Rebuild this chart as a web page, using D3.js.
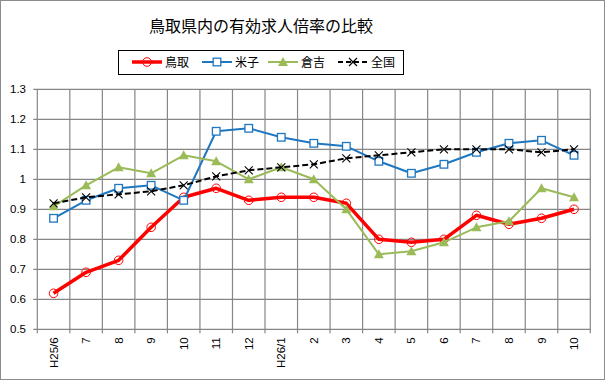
<!DOCTYPE html>
<html>
<head>
<meta charset="utf-8">
<script src="https://cdn.jsdelivr.net/npm/d3@7"></script>
<style>
  body { margin: 0; background: #fff; }
  svg { display: block; }
</style>
</head>
<body>
<svg id="chart" width="606" height="381"></svg>
<script>
// months (H25/6 .. H26/10)
const categories = ["H25/6", "7", "8", "9", "10", "11", "12", "H26/1", "2", "3", "4", "5", "6", "7", "8", "9", "10"];
const tottori = [0.62, 0.69, 0.73, 0.84, 0.94, 0.97, 0.93, 0.94, 0.94, 0.92, 0.80, 0.79, 0.80, 0.88, 0.85, 0.87, 0.90];
const yonago = [0.87, 0.93, 0.97, 0.98, 0.93, 1.16, 1.17, 1.14, 1.12, 1.11, 1.06, 1.02, 1.05, 1.09, 1.12, 1.13, 1.08];
const kurayoshi = [0.91, 0.98, 1.04, 1.02, 1.08, 1.06, 1.00, 1.04, 1.00, 0.90, 0.75, 0.76, 0.79, 0.84, 0.86, 0.97, 0.94];
const zenkoku = [0.92, 0.94, 0.95, 0.96, 0.98, 1.01, 1.03, 1.04, 1.05, 1.07, 1.08, 1.09, 1.10, 1.10, 1.10, 1.09, 1.10];
const yTicks = [0.5, 0.6, 0.7, 0.8, 0.9, 1.0, 1.1, 1.2, 1.3];

const series = [
  { name: "鳥取", values: tottori, color: "#ff0000", width: 3.5, marker: "circle" },
  { name: "米子", values: yonago, color: "#1f77c0", width: 2, marker: "square" },
  { name: "倉吉", values: kurayoshi, color: "#9bbb59", width: 2, marker: "triangle" },
  { name: "全国", values: zenkoku, color: "#000000", width: 2, marker: "cross", dash: "6,3" }
];

const svg = d3.select("#chart");
const W = 606, H = 381;
const plot = { left: 37.3, right: 590.3, top: 89.3, bottom: 329.3 };

// chart border
svg.append("rect")
  .attr("x", 0.5).attr("y", 0.5)
  .attr("width", W - 2).attr("height", H - 2)
  .attr("fill", "#fff").attr("stroke", "#8c8c8c");

const x = d3.scaleBand().domain(d3.range(categories.length)).range([plot.left, plot.right]);
const y = d3.scaleLinear().domain([0.5, 1.3]).range([plot.bottom, plot.top]);
const cx = i => x(i) + x.bandwidth() / 2;

/* ------- GRID -------*/
const grid = svg.append("g").attr("stroke", "#868686").attr("stroke-width", 1.2);
grid.selectAll("line.h").data(yTicks).enter().append("line")
  .attr("x1", plot.left - 4).attr("x2", plot.right)
  .attr("y1", d => y(d)).attr("y2", d => y(d));
grid.selectAll("line.v").data(d3.range(categories.length + 1)).enter().append("line")
  .attr("x1", d => plot.left + d * x.bandwidth()).attr("x2", d => plot.left + d * x.bandwidth())
  .attr("y1", plot.top).attr("y2", plot.bottom + 4);

/* ------- AXES LABELS -------*/
svg.append("g").selectAll("text").data(yTicks).enter().append("text")
  .attr("x", 26).attr("y", d => y(d) + 4)
  .attr("text-anchor", "end")
  .attr("font-family", "Liberation Sans, Arial, sans-serif")
  .attr("font-size", 11.5)
  .attr("fill", "#000")
  .text(d => d3.format("")(+d.toFixed(1)));

svg.append("g").selectAll("text").data(categories).enter().append("text")
  .attr("transform", (d, i) => `translate(${cx(i) + 4},${plot.bottom + 8}) rotate(-90)`)
  .attr("text-anchor", "end")
  .attr("font-family", "Liberation Sans, Arial, sans-serif")
  .attr("font-size", 11.5)
  .attr("fill", "#000")
  .text(d => d);

/* ------- MARKERS -------*/
function drawMarker(g, type, color, px, py) {
  if (type === "circle") {
    g.append("circle").attr("cx", px).attr("cy", py).attr("r", 4.3)
      .attr("fill", "none").attr("stroke", color).attr("stroke-width", 1);
  } else if (type === "square") {
    g.append("rect").attr("x", px - 3.8).attr("y", py - 3.8).attr("width", 7.6).attr("height", 7.6)
      .attr("fill", "#fff").attr("stroke", color).attr("stroke-width", 1.3);
  } else if (type === "triangle") {
    g.append("path").attr("d", `M${px},${py - 5}L${px + 5},${py + 4}L${px - 5},${py + 4}Z`)
      .attr("fill", color);
  } else if (type === "cross") {
    g.append("path").attr("d", `M${px - 4},${py - 4}L${px + 4},${py + 4}M${px + 4},${py - 4}L${px - 4},${py + 4}`)
      .attr("stroke", color).attr("stroke-width", 1.1);
  }
}

/* ------- LINES -------*/
const line = d3.line().x((d, i) => cx(i)).y(d => y(d));
series.forEach(s => {
  const g = svg.append("g");
  g.append("path").datum(s.values)
    .attr("d", line)
    .attr("fill", "none")
    .attr("stroke", s.color)
    .attr("stroke-width", s.width)
    .attr("stroke-dasharray", s.dash || null)
    .attr("stroke-linejoin", "round");
  s.values.forEach((v, i) => drawMarker(g, s.marker, s.color, cx(i), y(v)));
});

/* ------- TITLE -------*/
svg.append("text")
  .attr("x", 261).attr("y", 32)
  .attr("text-anchor", "middle")
  .attr("font-family", "Noto Sans CJK JP, sans-serif")
  .attr("font-size", 16)
  .attr("fill", "#000")
  .text("鳥取県内の有効求人倍率の比較");

/* ------- LEGEND -------*/
const legend = svg.append("g");
legend.append("rect")
  .attr("x", 118.5).attr("y", 50.5).attr("width", 285).attr("height", 24)
  .attr("fill", "#fff").attr("stroke", "#000").attr("stroke-width", 1);
const legendX = [132, 202, 268, 338];
series.forEach((s, i) => {
  const lx = legendX[i], ly = 62;
  const g = legend.append("g");
  g.append("line").attr("x1", lx).attr("x2", lx + 30).attr("y1", ly).attr("y2", ly)
    .attr("stroke", s.color).attr("stroke-width", s.width)
    .attr("stroke-dasharray", s.dash ? "5,3" : null);
  drawMarker(g, s.marker, s.color, lx + 15, ly);
  g.append("text").attr("x", lx + 33).attr("y", ly + 5)
    .attr("font-family", "Noto Sans CJK JP, sans-serif")
    .attr("font-size", 12)
    .attr("fill", "#000")
    .text(s.name);
});
</script>
</body>
</html>
